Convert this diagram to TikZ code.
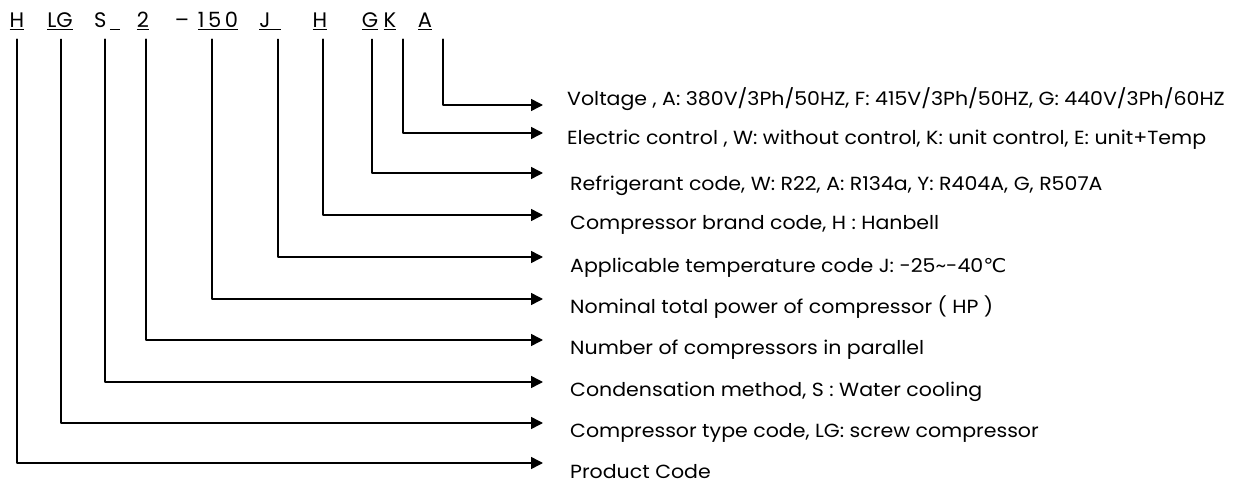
\documentclass[tikz,border=0pt]{standalone}
\usepackage{fontspec}
\setmainfont{Poppins}
\newfontfamily\descfont[FakeStretch=1.08]{Poppins}
\newfontfamily\symfont[FakeStretch=1.08]{DejaVu Sans}
\usetikzlibrary{arrows.meta}
\begin{document}
\begin{tikzpicture}[line cap=round,line join=round,>={Triangle[length=12pt,width=12pt]},x=1pt,y=-1pt,
code/.style={anchor=base,inner sep=0pt,font=\fontsize{21}{21}\selectfont},
desc/.style={anchor=base west,inner sep=0pt,font=\descfont\fontsize{19}{19}\selectfont},
lead/.style={->,line width=1.5pt,shorten <=9pt}]
\useasboundingbox (0,0) rectangle (1240,484);
\node[code] (cH) at (17,28) {\underline{H}};
\node[code] (cLG) at (60,28) {\underline{LG}};
\node[code] (cS) at (107,28) {S\,\underline{\hspace{10pt}}};
\node[code] (cN) at (143,28) {\underline{2}};
\node[code] (cDash) at (182,28) {--};
\node[code] (cHP) at (218,28) {\underline{1\,5\,0}};
\node[code] (cJ) at (270,28) {\underline{J\hspace{10pt}}};
\node[code] (cBr) at (320,28) {\underline{H}};
\node[code] (cG) at (370,28) {\underline{G}};
\node[code] (cK) at (390,28) {\underline{K}};
\node[code] (cA) at (425,28) {\underline{A}};
\node[desc] (dA) at (567,106) {Voltage , A: 380V/3Ph/50HZ, F: 415V/3Ph/50HZ, G: 440V/3Ph/60HZ};
\node[desc] (dK) at (567,145) {Electric control , W: without control, K: unit control, E: unit+Temp};
\node[desc] (dG) at (570,190) {Refrigerant code, W: R22, A: R134a, Y: R404A, G, R507A};
\node[desc] (dBr) at (570,229) {Compressor brand code, H : Hanbell};
\node[desc] (dJ) at (570,272) {Applicable temperature code J: -25\textasciitilde-40{\symfont ℃}};
\node[desc] (dHP) at (570,313) {Nominal total power of compressor ( HP )};
\node[desc] (dN) at (570,354) {Number of compressors in parallel};
\node[desc] (dS) at (570,396) {Condensation method, S : Water cooling};
\node[desc] (dLG) at (570,437) {Compressor type code, LG: screw compressor};
\node[desc] (dH) at (570,478) {Product Code};
\coordinate (tA) at (543,105);
\coordinate (tK) at (543,133);
\coordinate (tG) at (543,173);
\coordinate (tBr) at (543,215);
\coordinate (tJ) at (543,257);
\coordinate (tHP) at (543,299);
\coordinate (tN) at (543,340);
\coordinate (tS) at (543,382);
\coordinate (tLG) at (543,423);
\coordinate (tH) at (543,463);
\draw[lead] ([xshift=18pt]cA.south) |- (tA);
\draw[lead] ([xshift=13pt]cK.south) |- (tK);
\draw[lead] ([xshift=2pt]cG.south) |- (tG);
\draw[lead] ([xshift=3pt]cBr.south) |- (tBr);
\draw[lead] ([xshift=8pt]cJ.south) |- (tJ);
\draw[lead] ([xshift=-6pt]cHP.south) |- (tHP);
\draw[lead] ([xshift=3pt]cN.south) |- (tN);
\draw[lead] ([xshift=-2pt]cS.south) |- (tS);
\draw[lead] ([xshift=1pt]cLG.south) |- (tLG);
\draw[lead] (cH.south) |- (tH);
\end{tikzpicture}
\end{document}
